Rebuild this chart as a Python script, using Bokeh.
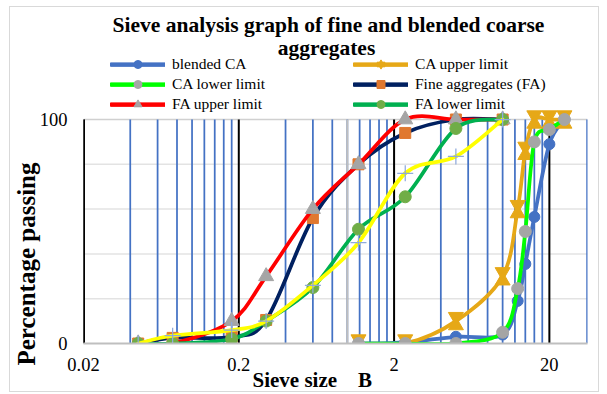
import math
from bokeh.plotting import figure
from bokeh.models import (FixedTicker, CustomJSTickFormatter, Legend, Label,
                          LegendItem, Range1d, ColumnDataSource, Title)
from bokeh.embed import file_html
from bokeh.resources import INLINE

# ---------------- data ----------------
fa_sieve = [0.045, 0.075, 0.18, 0.3, 0.6, 1.18, 2.36, 5, 10]
ca_sieve = [1.18, 2.36, 5, 10, 12.5, 14, 16, 20, 25]

blended_ca = [0, 0.5, 3, 4, 19, 35.5, 56.5, 89, 100]
ca_upper = [0, 0, 10, 30, 60, 86, 100, 100, 100]
ca_lower = [0, 0, 0, 5, 24.5, 50, 90, 95.5, 100]
fine_agg = [0, 2.5, 3, 10.5, 56, 80, 94, 100, 100]
fa_upper = [0, 0, 10, 30, 60, 80, 100, 100, 100]
fa_lower = [0, 0, 2, 10, 25, 51, 65.5, 96, 100]
fa_extra = [0, 3.5, 6, 10, 26, 45, 76, 83.5, 100]

x_tick_values = [0.02, 0.2, 2, 20]
x_minor_values = [d * k for d in (0.02, 0.2, 2) for k in range(2, 10)]
y_tick_values = [0, 100]
y_minor_values = [20, 40, 60, 80]

# ---------------- figure ----------------
X_END = 35.2
Y_MAX = 100
PX_PER_UNIT = 2.24
FONT = "Liberation Serif"
p = figure(width=590, height=386, x_axis_type="log",
           x_range=Range1d(0.02, X_END), y_range=Range1d(0, 336 / PX_PER_UNIT),
           output_backend="svg", toolbar_location=None, title_location=None,
           min_border_left=73, min_border_right=13,
           min_border_top=0, min_border_bottom=50)
p.outline_line_color = None
p.background_fill_color = "white"
p.border_fill_color = "white"
p.styles = {"border": "1px solid #D9D9D9", "margin-left": "9px", "margin-top": "6px"}
p.xgrid.visible = False
p.ygrid.visible = False

# plot-area grid (limited to the 0..100 band)
p.segment(x0=0.02, x1=X_END, y0=y_minor_values, y1=y_minor_values,
          line_color="#E3E3E3", line_width=1.5, level="underlay")
p.segment(x0=0.02, x1=X_END, y0=[Y_MAX], y1=[Y_MAX],
          line_color="#D0D0D0", line_width=1.5, level="underlay")
p.segment(x0=x_minor_values, x1=x_minor_values, y0=0, y1=Y_MAX,
          line_color="#4472C4", line_width=1.75, level="underlay")
p.segment(x0=[1], x1=[1], y0=0, y1=Y_MAX,
          line_color="#BFBFBF", line_width=2, level="underlay")
p.segment(x0=[X_END], x1=[X_END], y0=0, y1=Y_MAX,
          line_color="#4472C4", line_width=2.5, level="underlay")
p.segment(x0=x_tick_values, x1=x_tick_values, y0=0, y1=Y_MAX,
          line_color="black", line_width=2, level="underlay")
p.segment(x0=[0.02], x1=[0.02], y0=0, y1=Y_MAX,
          line_color="black", line_width=3, level="underlay")

p.xaxis.ticker = FixedTicker(ticks=x_tick_values)
p.xaxis.formatter = CustomJSTickFormatter(code="return String(tick)")
p.xaxis.axis_line_color = "#BFBFBF"
p.xaxis.axis_line_width = 2
p.xaxis.major_label_standoff = 14
p.yaxis.ticker = FixedTicker(ticks=y_tick_values)
p.yaxis.axis_line_color = None
p.yaxis.major_label_standoff = 16
for ax in (p.xaxis, p.yaxis):
    ax.major_tick_line_color = None
    ax.minor_tick_line_color = None
    ax.major_tick_out = 0
    ax.major_label_text_font = FONT
    ax.major_label_text_font_size = "18.5px"
    ax.major_label_text_color = "black"


def smooth(xs, ys):
    """Bezier control points (Catmull-Rom style) in log-x space, like Excel smoothing."""
    lx = [math.log10(v) for v in xs]
    n = len(xs)
    d = dict(x0=[], y0=[], x1=[], y1=[], cx0=[], cy0=[], cx1=[], cy1=[])
    for i in range(n - 1):
        a = max(i - 1, 0)
        b = min(i + 2, n - 1)
        c0x = lx[i] + (lx[i + 1] - lx[a]) / 6
        c0y = ys[i] + (ys[i + 1] - ys[a]) / 6
        c1x = lx[i + 1] - (lx[b] - lx[i]) / 6
        c1y = ys[i + 1] - (ys[b] - ys[i]) / 6
        d["x0"].append(xs[i]); d["y0"].append(ys[i])
        d["x1"].append(xs[i + 1]); d["y1"].append(ys[i + 1])
        d["cx0"].append(10 ** c0x); d["cy0"].append(c0y)
        d["cx1"].append(10 ** c1x); d["cy1"].append(c1y)
    return ColumnDataSource(d)


LW = 3.75


def curve(xs, ys, color):
    bz = p.bezier(x0="x0", y0="y0", x1="x1", y1="y1", cx0="cx0", cy0="cy0",
                  cx1="cx1", cy1="cy1", source=smooth(xs, ys), line_color=color,
                  line_width=LW, line_cap="round")
    # non-drawing line renderer used only as a legend swatch
    sw = p.line(x=[math.nan, math.nan], y=[math.nan, math.nan],
                line_color=color, line_width=LW + 0.5)
    return [bz, sw]


BLUE = "#4472C4"
GOLD = "#E6A817"
LIME = "#00FF00"
GRAY = "#A5A5A5"
NAVY = "#002060"
ORANGE = "#E0782F"
RED = "#FF0000"
GREEN = "#00B050"
OLIVE = "#70AD47"
YELLOW = "#FFFF00"
LBLUE = "#8FAADC"

# 1 blended CA
l_blend = curve(ca_sieve, blended_ca, BLUE)
m_blend = p.scatter(ca_sieve, blended_ca, marker="circle", size=11,
                    fill_color=BLUE, line_color=BLUE)

# 2 CA upper limit (hourglass markers)
l_caup = curve(ca_sieve, ca_upper, GOLD)
HG = 15
dy = (HG / 2) * math.sqrt(3) / 3 / PX_PER_UNIT
m_caup1 = p.scatter(ca_sieve, [v + dy for v in ca_upper], marker="inverted_triangle",
                    size=HG, fill_color=GOLD, line_color=GOLD)
m_caup2 = p.scatter(ca_sieve, [v - dy for v in ca_upper], marker="triangle",
                    size=HG, fill_color=GOLD, line_color=GOLD)

# 3 CA lower limit
l_calo = curve(ca_sieve, ca_lower, LIME)
m_calo = p.scatter(ca_sieve, ca_lower, marker="circle", size=12,
                   fill_color=GRAY, line_color=GRAY)

# 4 Fine aggregates
l_fa = curve(fa_sieve, fine_agg, NAVY)
m_fa = p.scatter(fa_sieve, fine_agg, marker="square", size=11,
                 fill_color=ORANGE, line_color=ORANGE)

# 5 FA upper limit
l_faup = curve(fa_sieve, fa_upper, RED)
m_faup = p.scatter(fa_sieve, fa_upper, marker="triangle", size=15,
                   fill_color=GRAY, line_color=GRAY)

# 6 FA lower limit
l_falo = curve(fa_sieve, fa_lower, GREEN)
m_falo = p.scatter(fa_sieve, fa_lower, marker="circle", size=12,
                   fill_color=OLIVE, line_color=OLIVE)

# 7 extra series (yellow)
curve(fa_sieve, fa_extra, YELLOW)
p.scatter(fa_sieve, fa_extra, marker="cross", size=16, line_color=LBLUE,
          line_width=1.25)


def make_legend(items, loc):
    lg = Legend(items=items, location=loc, orientation="vertical",
                glyph_width=55, glyph_height=20, label_height=20, spacing=0,
                padding=0, margin=0, label_standoff=7,
                border_line_color=None, background_fill_alpha=0,
                label_text_font=FONT, label_text_font_size="15.5px",
                label_text_color="black")
    p.add_layout(lg)


make_legend([
    LegendItem(label="blended CA", renderers=l_blend + [m_blend]),
    LegendItem(label="CA lower limit", renderers=l_calo + [m_calo]),
    LegendItem(label="FA upper limit", renderers=l_faup + [m_faup]),
], (27, 229))
make_legend([
    LegendItem(label="CA upper limit", renderers=l_caup + [m_caup1, m_caup2]),
    LegendItem(label="Fine aggregates (FA)", renderers=l_fa + [m_fa]),
    LegendItem(label="FA lower limit", renderers=l_falo + [m_falo]),
], (270, 229))


# ---------------- title (inside the frame, above the plot band) ----------------
def xpx(px):
    return 0.02 * 10 ** ((px - 83) / 504 * math.log10(X_END / 0.02))


def ypx(py):
    return (343 - py) / PX_PER_UNIT


for txt, cx, cy in (("Sieve analysis graph of fine and blended coarse", 328, 24),
                    ("aggregates", 326, 47)):
    p.add_layout(Label(x=xpx(cx), y=ypx(cy), text=txt, text_align="center",
                       text_baseline="middle", text_font=FONT,
                       text_font_style="bold", text_font_size="21.5px",
                       text_color="black"))

p.add_layout(Title(text="Sieve size\u00a0\u00a0\u00a0\u00a0B", align="left",
                   offset=169, standoff=-15, text_font=FONT,
                   text_font_style="bold", text_font_size="21px",
                   text_color="black"), "below")
p.add_layout(Title(text="Percentage passing", align="left", offset=-22,
                   standoff=-7, text_font=FONT, text_font_style="bold",
                   text_font_size="25px", text_color="black"), "left")

open("out.html", "w").write(file_html(p, INLINE))
